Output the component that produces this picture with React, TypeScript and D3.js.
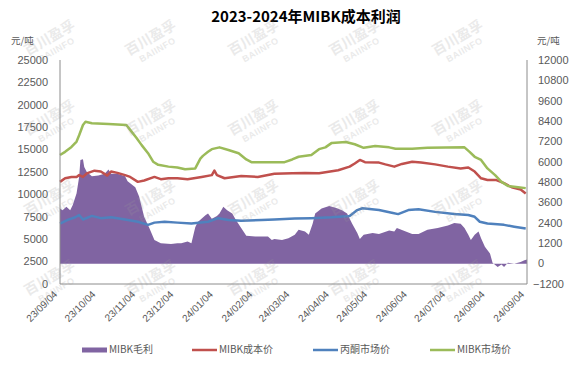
import React from 'react';
import * as d3 from 'd3';

// MIBK market price (left axis)
const mibkMarket: [string, number][] = [
  ['2023-09-04', 14400], ['2023-09-08', 14750], ['2023-09-13', 15300], ['2023-09-17', 15900],
  ['2023-09-19', 16600], ['2023-09-22', 17750], ['2023-09-24', 18100], ['2023-09-29', 17950],
  ['2023-10-12', 17850], ['2023-10-26', 17750], ['2023-10-29', 17200], ['2023-11-03', 16300],
  ['2023-11-07', 15500], ['2023-11-12', 14600], ['2023-11-16', 13650], ['2023-11-20', 13300],
  ['2023-11-28', 13100], ['2023-12-05', 13000], ['2023-12-11', 12800], ['2023-12-19', 12900],
  ['2023-12-23', 14000], ['2023-12-25', 14300], ['2023-12-29', 14750], ['2024-01-01', 15050],
  ['2024-01-07', 15250], ['2024-01-14', 14950], ['2024-01-22', 14600], ['2024-01-28', 13900],
  ['2024-02-01', 13600], ['2024-02-14', 13600], ['2024-02-27', 13600], ['2024-03-04', 13900],
  ['2024-03-09', 14200], ['2024-03-19', 14400], ['2024-03-25', 15050], ['2024-03-30', 15250],
  ['2024-04-04', 15750], ['2024-04-15', 15850], ['2024-04-22', 15600], ['2024-04-29', 15200],
  ['2024-05-08', 15400], ['2024-05-19', 15250], ['2024-05-24', 15100], ['2024-06-06', 15100],
  ['2024-06-18', 15200], ['2024-07-17', 15250], ['2024-07-21', 14750], ['2024-07-25', 14200],
  ['2024-07-30', 13850], ['2024-08-04', 12900], ['2024-08-10', 12150], ['2024-08-15', 11400],
  ['2024-08-20', 10950], ['2024-08-28', 10800], ['2024-09-03', 10700],
];

// MIBK cost price (left axis)
const mibkCost: [string, number][] = [
  ['2023-09-04', 11400], ['2023-09-08', 11800], ['2023-09-13', 11950], ['2023-09-17', 11950],
  ['2023-09-19', 12150], ['2023-09-22', 11950], ['2023-09-25', 12350], ['2023-10-01', 12650],
  ['2023-10-06', 12550], ['2023-10-11', 12100], ['2023-10-14', 12550], ['2023-10-19', 12400],
  ['2023-10-25', 12150], ['2023-10-29', 11950], ['2023-11-04', 11400], ['2023-11-09', 11550],
  ['2023-11-17', 11950], ['2023-11-22', 11700], ['2023-11-28', 11800], ['2023-12-05', 11800],
  ['2023-12-13', 11700], ['2023-12-24', 11950], ['2024-01-01', 12150], ['2024-01-03', 12650],
  ['2024-01-05', 12150], ['2024-01-11', 11800], ['2024-01-24', 12050], ['2024-02-06', 11950],
  ['2024-02-19', 12300], ['2024-03-04', 12350], ['2024-03-14', 12400], ['2024-03-25', 12350],
  ['2024-04-09', 12700], ['2024-04-18', 13100], ['2024-04-22', 13450], ['2024-04-26', 13850],
  ['2024-04-30', 13600], ['2024-05-11', 13550], ['2024-05-16', 13350], ['2024-05-23', 13100],
  ['2024-05-29', 13400], ['2024-06-06', 13650], ['2024-06-13', 13550], ['2024-06-24', 13350],
  ['2024-07-04', 13100], ['2024-07-14', 12900], ['2024-07-20', 13000], ['2024-07-25', 12550],
  ['2024-07-30', 11800], ['2024-08-04', 11600], ['2024-08-11', 11600], ['2024-08-17', 11250],
  ['2024-08-23', 10800], ['2024-08-30', 10550], ['2024-09-03', 10100],
];

// acetone market price (left axis)
const acetoneMarket: [string, number][] = [
  ['2023-09-04', 6750], ['2023-09-10', 7150], ['2023-09-16', 7450], ['2023-09-19', 7700],
  ['2023-09-22', 7200], ['2023-09-29', 7600], ['2023-10-06', 7350], ['2023-10-14', 7450],
  ['2023-10-25', 7200], ['2023-11-04', 6950], ['2023-11-12', 6600], ['2023-11-17', 6850],
  ['2023-11-25', 6950], ['2023-12-05', 6850], ['2023-12-16', 6750], ['2023-12-29', 6950],
  ['2024-01-06', 7350], ['2024-01-14', 7150], ['2024-01-24', 7050], ['2024-02-09', 7150],
  ['2024-02-19', 7200], ['2024-03-06', 7300], ['2024-03-19', 7350], ['2024-04-04', 7450],
  ['2024-04-18', 7600], ['2024-04-24', 8250], ['2024-04-28', 8450], ['2024-05-11', 8250],
  ['2024-05-21', 7950], ['2024-05-26', 7800], ['2024-06-03', 8250], ['2024-06-11', 8350],
  ['2024-06-24', 8050], ['2024-07-09', 7800], ['2024-07-20', 7700], ['2024-07-25', 7500],
  ['2024-07-29', 6950], ['2024-08-04', 6750], ['2024-08-17', 6600], ['2024-08-25', 6400],
  ['2024-09-03', 6200],
];

// MIBK gross profit (right axis)
const mibkProfit: [string, number][] = [
  ['2023-09-04', 3250], ['2023-09-06', 3150], ['2023-09-09', 3350], ['2023-09-12', 3150],
  ['2023-09-14', 3450], ['2023-09-17', 4150], ['2023-09-19', 5100], ['2023-09-20', 6100],
  ['2023-09-22', 6150], ['2023-09-23', 5700], ['2023-09-25', 5400], ['2023-09-29', 5150],
  ['2023-10-04', 5200], ['2023-10-09', 5300], ['2023-10-12', 5550], ['2023-10-14', 5300],
  ['2023-10-19', 5300], ['2023-10-25', 5150], ['2023-10-27', 4850], ['2023-11-02', 4500],
  ['2023-11-05', 3950], ['2023-11-09', 2750], ['2023-11-13', 2100], ['2023-11-17', 1400],
  ['2023-11-22', 1200], ['2023-11-30', 1150], ['2023-12-05', 1200], ['2023-12-08', 1200],
  ['2023-12-13', 1300], ['2023-12-16', 1200], ['2023-12-19', 2150], ['2023-12-21', 2450],
  ['2023-12-27', 2850], ['2023-12-29', 2950], ['2024-01-01', 2650], ['2024-01-05', 2800],
  ['2024-01-07', 2950], ['2024-01-10', 3350], ['2024-01-13', 3150], ['2024-01-17', 2950],
  ['2024-01-20', 2550], ['2024-01-24', 2100], ['2024-01-28', 1650], ['2024-02-04', 1600],
  ['2024-02-14', 1600], ['2024-02-17', 1400], ['2024-02-19', 1450], ['2024-02-25', 1400],
  ['2024-03-01', 1500], ['2024-03-06', 1700], ['2024-03-09', 2000], ['2024-03-14', 1900],
  ['2024-03-17', 1700], ['2024-03-20', 2350], ['2024-03-22', 2950], ['2024-03-27', 3250],
  ['2024-04-02', 3400], ['2024-04-07', 3300], ['2024-04-12', 3150], ['2024-04-16', 2950],
  ['2024-04-20', 2350], ['2024-04-24', 1800], ['2024-04-26', 1450], ['2024-04-29', 1700],
  ['2024-05-06', 1800], ['2024-05-11', 1750], ['2024-05-19', 1950], ['2024-05-23', 1900],
  ['2024-05-25', 2100], ['2024-06-01', 1900], ['2024-06-06', 1750], ['2024-06-11', 1750],
  ['2024-06-18', 2000], ['2024-06-26', 2100], ['2024-07-04', 2250], ['2024-07-09', 2400],
  ['2024-07-14', 2350], ['2024-07-17', 2100], ['2024-07-20', 1700], ['2024-07-22', 1400],
  ['2024-07-25', 1700], ['2024-07-28', 1900], ['2024-07-30', 1500], ['2024-08-02', 1000],
  ['2024-08-06', 600], ['2024-08-08', 50], ['2024-08-12', -200], ['2024-08-15', -50],
  ['2024-08-17', -200], ['2024-08-20', 50], ['2024-08-25', 0], ['2024-08-30', 100],
  ['2024-09-02', 200], ['2024-09-04', 250],
];

const xTicks = [
  '2023-09-04', '2023-10-04', '2023-11-04', '2023-12-04', '2024-01-04', '2024-02-04', '2024-03-04',
  '2024-04-04', '2024-05-04', '2024-06-04', '2024-07-04', '2024-08-04', '2024-09-04',
];
const leftTicks = d3.range(0, 25001, 2500);
const rightTicks = d3.range(-1200, 12001, 1200);

const legendItems = [
  { label: 'MIBK毛利', color: '#8064a2', kind: 'area', x: 82 },
  { label: 'MIBK成本价', color: '#c0504d', kind: 'line', x: 192 },
  { label: '丙酮市场价', color: '#4f81bd', kind: 'line', x: 313 },
  { label: 'MIBK市场价', color: '#9bbb59', kind: 'line', x: 430 },
];

const parse = d3.timeParse('%Y-%m-%d');
const fmtTick = d3.timeFormat('%y/%m/%d');
const FONT = "'Liberation Sans', 'Noto Sans CJK SC', sans-serif";
const CJK = "'Noto Sans CJK SC', sans-serif";

const App = () => {
  const width = 576;
  const height = 365;
  const margin = { top: 60, right: 49, bottom: 81, left: 60 };

  const x = d3
    .scaleTime()
    .domain([parse('2023-09-04')!, parse('2024-09-04')!])
    .range([margin.left, width - margin.right]);

  const yL = d3
    .scaleLinear()
    .domain([0, 25000])
    .range([height - margin.bottom, margin.top]);

  const yR = d3
    .scaleLinear()
    .domain([-1200, 12000])
    .range([height - margin.bottom, margin.top]);

  const line = d3
    .line<[string, number]>()
    .x((d) => x(parse(d[0])!))
    .y((d) => yL(d[1]));

  const area = d3
    .area<[string, number]>()
    .x((d) => x(parse(d[0])!))
    .y0(yR(0))
    .y1((d) => yR(d[1]));

  // watermark grid
  const wmCols = [52, 153, 256, 357, 460];
  const wmRows = [42, 122, 202, 282];

  return (
    <svg
      width={width}
      height={height}
      style={{ position: 'absolute', left: 0, top: 0, background: '#fff' }}
      fontFamily={FONT}
    >
      <text x={306} y={21.5} textAnchor="middle" fontSize={15} fontWeight="bold" fill="#000" fontFamily={CJK}>
        2023-2024年MIBK成本利润
      </text>
      <text x={11} y={44} fontSize={9.5} fill="#595959" fontFamily={CJK}>元/吨</text>
      <text x={537} y={44} fontSize={9.5} fill="#595959" fontFamily={CJK}>元/吨</text>

      <path d={area(mibkProfit) ?? ''} fill="#8064a2" />
      <path d={line(mibkCost) ?? ''} fill="none" stroke="#c0504d" strokeWidth={2.5} strokeLinejoin="round" />
      <path d={line(acetoneMarket) ?? ''} fill="none" stroke="#4f81bd" strokeWidth={2.5} strokeLinejoin="round" />
      <path d={line(mibkMarket) ?? ''} fill="none" stroke="#9bbb59" strokeWidth={2.5} strokeLinejoin="round" />

      {/* axes */}
      <line x1={margin.left} x2={margin.left} y1={margin.top} y2={height - margin.bottom} stroke="#8c8c8c" />
      <line x1={width - margin.right} x2={width - margin.right} y1={margin.top} y2={height - margin.bottom} stroke="#8c8c8c" />
      <line x1={margin.left} x2={width - margin.right} y1={height - margin.bottom} y2={height - margin.bottom} stroke="#8c8c8c" />

      {leftTicks.map((t) => (
        <text key={'l' + t} x={48} y={yL(t)} dy="0.35em" textAnchor="end" fontSize={11} fill="#595959">
          {t}
        </text>
      ))}
      {rightTicks.map((t) => (
        <text key={'r' + t} x={t < 0 ? 533 : 538} y={yR(t)} dy="0.35em" fontSize={11} fill="#595959">
          {t < 0 ? '−' + Math.abs(t) : t}
        </text>
      ))}
      {xTicks.map((t) => {
        const px = x(parse(t)!) - 2;
        return (
          <text key={t} transform={`translate(${px},295) rotate(-45)`} textAnchor="end" fontSize={10} fill="#595959">
            {fmtTick(parse(t)!)}
          </text>
        );
      })}

      {legendItems.map((item) => (
        <g key={item.label}>
          {item.kind === 'area' ? (
            <rect x={item.x} y={347.5} width={25} height={5} fill={item.color} />
          ) : (
            <line x1={item.x} x2={item.x + 25} y1={350} y2={350} stroke={item.color} strokeWidth={2.5} />
          )}
          <text x={item.x + 27} y={349.5} dy="0.35em" fontSize={10} fill="#595959" fontFamily={CJK}>
            {item.label}
          </text>
        </g>
      ))}

      {/* watermark */}
      {wmRows.map((ry) =>
        wmCols.map((cx) => (
          <g key={`${cx}-${ry}`} transform={`translate(${cx},${ry}) rotate(-30)`} fill="#999" opacity={0.2}>
            <text textAnchor="middle" fontSize={14} fontWeight="bold" fontFamily={CJK}>
              百川盈孚
            </text>
            <text y={12} textAnchor="middle" fontSize={9} fontWeight="bold" letterSpacing={0.5}>
              BAIINFO
            </text>
          </g>
        ))
      )}
    </svg>
  );
};

export default App;
